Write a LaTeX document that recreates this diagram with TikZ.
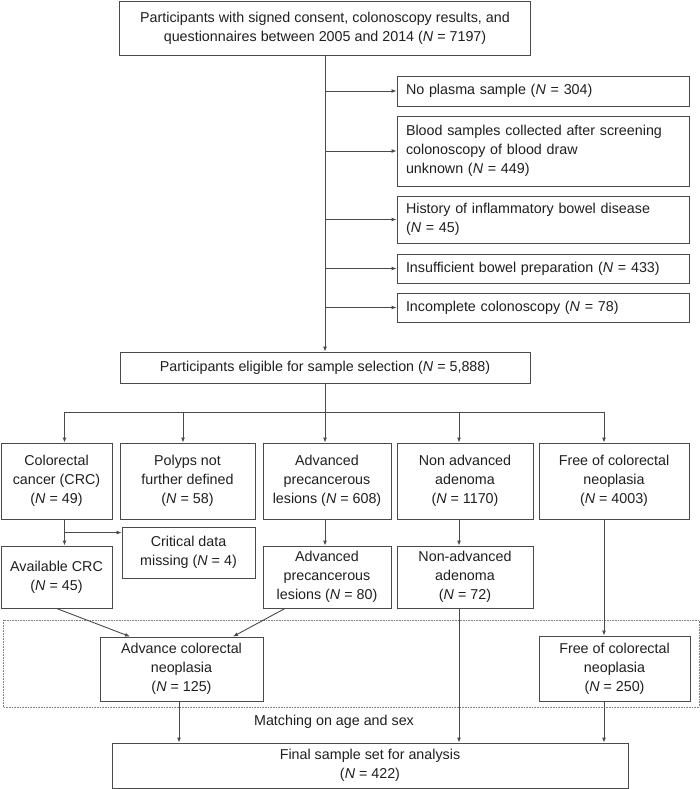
\documentclass[tikz,border=0pt]{standalone}
\usepackage{fontspec}
\setmainfont{Liberation Sans}
\usetikzlibrary{arrows.meta}
\definecolor{linegray}{HTML}{4A4A4A}
\newcommand{\Nval}[1]{(\textit{N} = #1)}

\begin{document}
\begin{tikzpicture}[x=1pt, y=-1pt,
    box/.style={draw=linegray, line width=0.9pt, rectangle, inner sep=0pt, align=center,
        text=black!88, font=\fontsize{14.3}{19}\selectfont},
    sidebox/.style={box, align=left, text width=274pt, inner xsep=9pt},
    arr/.style={draw=linegray, line width=0.9pt, -{Latex[length=5pt,width=4pt]}},
    line/.style={draw=linegray, line width=0.9pt}]
    \useasboundingbox (0,0) rectangle (700,789);

    % Start and exclusions
    \node[box, minimum width=411pt, minimum height=54pt] (top) at (325,28)
        {Participants with signed consent, colonoscopy results, and\\questionnaires between 2005 and 2014 \Nval{7197}};
    \node[sidebox, minimum height=30pt] (noplasma) at (543,91) {No plasma sample \Nval{304}};
    \node[sidebox, minimum height=70pt] (blood) at (543,151)
        {Blood samples collected after screening\\colonoscopy of blood draw\\unknown \Nval{449}};
    \node[sidebox, minimum height=47pt] (ibd) at (543,219.5) {History of inflammatory bowel disease\\\Nval{45}};
    \node[sidebox, minimum height=29pt] (prep) at (543,268.5) {Insufficient bowel preparation \Nval{433}};
    \node[sidebox, minimum height=29pt] (incompl) at (543,307.5) {Incomplete colonoscopy \Nval{78}};
    \node[box, minimum width=410pt, minimum height=31pt] (elig) at (325,367.5)
        {Participants eligible for sample selection \Nval{5,888}};

    \draw[arr] (top.south) -- (top.south |- elig.north);
    \foreach \n in {noplasma,blood,ibd,prep,incompl}
        \draw[arr] (top.south |- \n.west) -- (\n.west);

    % Groups after colonoscopy
    \node[box, minimum width=111pt, minimum height=76pt] (crc) at (56.5,481) {Colorectal\\cancer (CRC)\\\Nval{49}};
    \node[box, minimum width=135pt, minimum height=76pt] (polyps) at (187.5,481) {Polyps not\\further defined\\\Nval{58}};
    \node[box, minimum width=128pt, minimum height=76pt] (apl) at (327,481) {Advanced\\precancerous\\lesions \Nval{608}};
    \node[box, minimum width=136pt, minimum height=76pt] (nonadv) at (465,481) {Non advanced\\adenoma\\\Nval{1170}};
    \node[box, minimum width=150pt, minimum height=76pt] (free) at (614,481) {Free of colorectal\\neoplasia\\\Nval{4003}};

    \coordinate (split) at (325,412);
    \coordinate (crcin) at ([xshift=8pt]crc.north);
    \coordinate (polin) at ([xshift=-4.5pt]polyps.north);
    \coordinate (aplin) at ([xshift=-2pt]apl.north);
    \coordinate (nadin) at ([xshift=-6pt]nonadv.north);
    \coordinate (freein) at ([xshift=-10pt]free.north);
    \draw[line] (elig.south) -- (split);
    \draw[line] (split -| crcin) -- (split -| freein);
    \foreach \n in {crcin,polin,aplin,nadin,freein}
        \draw[arr] (split -| \n) -- (\n);

    % Selected samples
    \node[box, minimum width=111pt, minimum height=62pt] (crcavail) at (56.5,577) {Available CRC\\\Nval{45}};
    \node[box, minimum width=133pt, minimum height=51pt] (missing) at (188.5,552.5) {Critical data\\missing \Nval{4}};
    \node[box, minimum width=128pt, minimum height=62pt] (apl2) at (327,577) {Advanced\\precancerous\\lesions \Nval{80}};
    \node[box, minimum width=136pt, minimum height=62pt] (nonadv2) at (465,577) {Non-advanced\\adenoma\\\Nval{72}};

    \coordinate (missin) at ([yshift=-6pt]missing.north west);
    \draw[arr] (crcin |- crc.south) -- (crcin |- crcavail.north);
    \draw[arr] (crcin |- missin) -- (missin);
    \draw[arr] (aplin |- apl.south) -- (aplin |- apl2.north);
    \draw[arr] (nadin |- nonadv.south) -- (nadin |- nonadv2.north);

    % Matching frame
    \draw[gray, densely dotted, line width=0.6pt] (3,620) rectangle (699,707);
    \node[box, minimum width=163pt, minimum height=64pt] (advance) at (181.5,669) {Advance colorectal\\neoplasia\\\Nval{125}};
    \node[box, minimum width=151pt, minimum height=65pt] (free250) at (614.5,668.5) {Free of colorectal\\neoplasia\\\Nval{250}};
    \node[text=black!88, font=\fontsize{14.3}{19}\selectfont] (match) at (334,722) {Matching on age and sex};

    \draw[arr] (crcavail.south) -- ([xshift=-51.5pt]advance.north);
    \draw[arr] ([xshift=-42pt]apl2.south) -- ([xshift=51.5pt]advance.north);
    \draw[arr] (freein |- free.south) -- (freein |- free250.north);

    % Final set
    \node[box, minimum width=516pt, minimum height=45pt] (final) at (370,765.5) {Final sample set for analysis\\\Nval{422}};
    \draw[arr] ([xshift=-2.5pt]advance.south) -- ([xshift=-2.5pt]advance.south |- final.north);
    \draw[arr] (nadin |- nonadv2.south) -- (nadin |- final.north);
    \draw[arr] (freein |- free250.south) -- (freein |- final.north);
\end{tikzpicture}
\end{document}
